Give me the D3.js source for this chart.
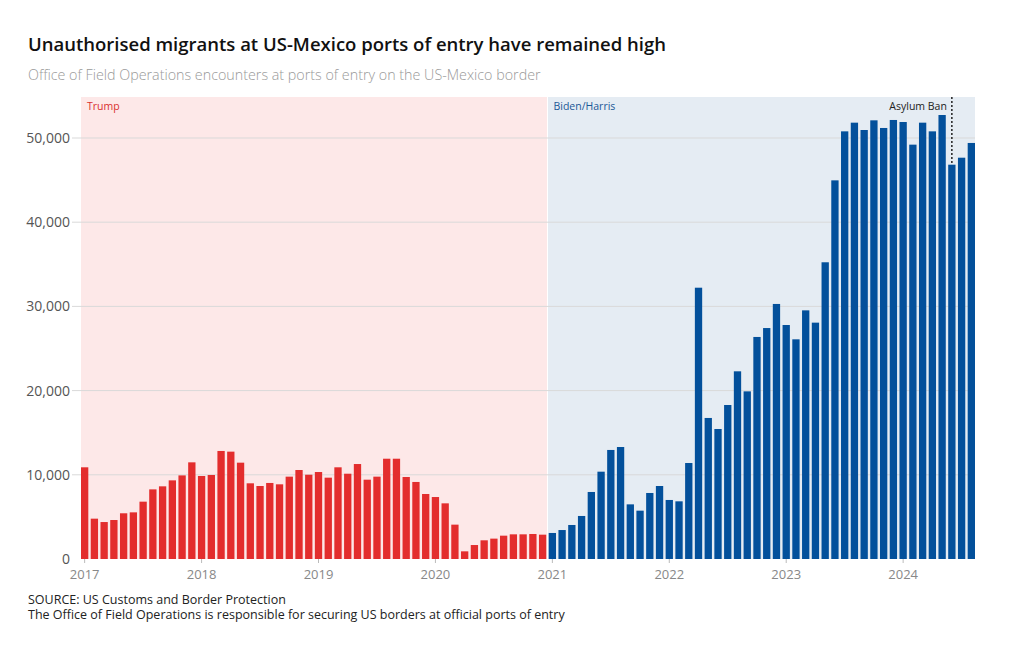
<!DOCTYPE html>
<html><head><meta charset="utf-8">
<script src="https://cdn.jsdelivr.net/npm/d3@7"></script>
<style>
body{margin:0;background:#fff;}
svg{display:block;font-family:"Open Sans","Noto Sans",sans-serif;}
</style></head>
<body><svg id="c" width="1020" height="650"></svg>
<script>
const trumpValues = [10890,4790,4390,4630,5430,5540,6810,8270,8630,9340,9930,11480,
  9860,9980,12830,12750,11440,8990,8670,9030,8870,9780,10570,10010,
  10330,9660,10890,10130,11280,9420,9780,11910,11910,9740,9150,7720,
  7360,6610,4080,910,1660,2220,2420,2770,2930,2930,2970,2890];
const bidenValues = [3090,3440,4040,5110,7960,10370,12950,13300,6490,5740,7840,8670,
  7010,6850,11400,32220,16750,15440,18290,22290,19910,26370,27430,30290,
  27790,26090,29530,28070,35240,44970,50790,51820,50950,52100,51190,52140,
  51900,49210,51820,50790,52730,46830,47660,49410];
const yTicks = [0,10000,20000,30000,40000,50000];
const xTickYears = ["2017","2018","2019","2020","2021","2022","2023","2024"];
const eraLabels = ["Trump","Biden/Harris"];
const annotation = {label:"Asylum Ban", month:"2024-06"};

const months = d3.timeMonth.range(new Date(2017,0,1), new Date(2024,8,1)).map(d3.timeFormat("%Y-%m"));
const data = months.map((m,i)=>({month:m, value: i<trumpValues.length ? trumpValues[i] : bidenValues[i-trumpValues.length], era: i<trumpValues.length?0:1}));

const svg = d3.select("#c");
const L=81, R=975, T=97, B=559;
const x = d3.scaleBand().domain(months).range([L,R]).paddingInner(0.25).paddingOuter(0);
const y = d3.scaleLinear().domain([0,50000]).range([B,138]);
const half = x.step()*x.paddingInner()/2;
const split = x("2021-01") - half;

// backgrounds
svg.append("rect").attr("x",L).attr("y",T).attr("width",split-L-0.5).attr("height",B-T).attr("fill","#fde8e8");
svg.append("rect").attr("x",split+0.5).attr("y",T).attr("width",R-split-0.5).attr("height",B-T).attr("fill","#e5ecf3");

// grid
svg.append("g").selectAll("line").data(yTicks.slice(1)).join("line")
  .attr("x1",72).attr("x2",R).attr("y1",d=>y(d)).attr("y2",d=>y(d))
  .attr("stroke","#d9d9d9").attr("stroke-width",1);

// y labels
svg.append("g").selectAll("text").data(yTicks).join("text")
  .attr("x",70).attr("y",d=>y(d)).attr("dy","0.35em").attr("text-anchor","end")
  .attr("font-size",14).attr("fill","#555").text(d=>d3.format(",")(d));

// annotation line
const ax = x(annotation.month)+x.bandwidth()/2;
svg.append("line").attr("x1",ax).attr("x2",ax).attr("y1",T).attr("y2",B)
  .attr("stroke","#222").attr("stroke-width",1.5).attr("stroke-dasharray","2,2");

// bars
svg.append("g").selectAll("rect").data(data).join("rect")
  .attr("x",d=>x(d.month)).attr("width",x.bandwidth())
  .attr("y",d=>y(d.value)).attr("height",d=>B-y(d.value))
  .attr("fill",d=>d.era===0?"#e32d2d":"#03509b");

// annotation text
svg.append("text").attr("x",ax-5).attr("y",110).attr("text-anchor","end")
  .attr("font-size",10.5).attr("fill","#222").text(annotation.label);

// era labels
svg.append("text").attr("x",L+6).attr("y",110).attr("font-size",10.5).attr("fill","#d9302f").text(eraLabels[0]);
svg.append("text").attr("x",split+6).attr("y",110).attr("font-size",10.5).attr("fill","#1b5896").text(eraLabels[1]);

// x axis ticks & labels
const xt = svg.append("g").selectAll("g").data(xTickYears).join("g")
  .attr("transform",d=>`translate(${x(d+"-01")+x.bandwidth()/2},0)`);
xt.append("line").attr("y1",B).attr("y2",B+4).attr("stroke","#bbb");
xt.append("text").attr("y",B+20).attr("text-anchor","middle").attr("font-size",13).attr("fill","#888").text(d=>d);

// titles
svg.append("text").attr("x",28).attr("y",51).attr("font-size",18.5).attr("font-weight",600).attr("fill","#111")
  .text("Unauthorised migrants at US-Mexico ports of entry have remained high");
svg.append("text").attr("x",28).attr("y",80).attr("font-size",14.3).attr("font-weight",300).attr("fill","#999")
  .text("Office of Field Operations encounters at ports of entry on the US-Mexico border");
svg.append("text").attr("x",28).attr("y",604).attr("font-size",12.5).attr("fill","#222").text("SOURCE: US Customs and Border Protection");
svg.append("text").attr("x",28).attr("y",619).attr("font-size",12.5).attr("fill","#222").text("The Office of Field Operations is responsible for securing US borders at official ports of entry");
</script></body></html>
